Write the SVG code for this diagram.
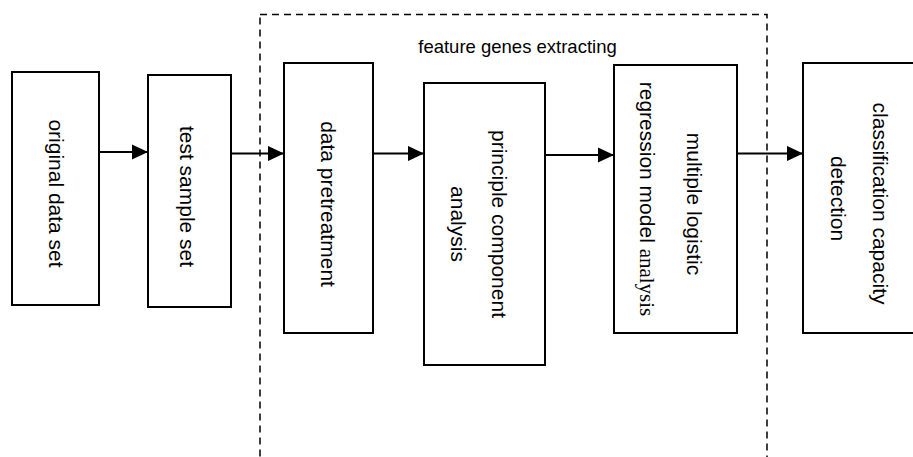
<svg xmlns="http://www.w3.org/2000/svg" width="913" height="457" viewBox="0 0 913 457">
<defs>
<style>
.box{fill:#fff;stroke:#000;stroke-width:2}
.lbl{font-family:"Liberation Sans",Arial,sans-serif;font-size:21px;fill:#000;text-anchor:middle}
.serif{font-family:"Liberation Serif","Times New Roman",serif}
.conn{stroke:#000;stroke-width:1.8;fill:none;marker-end:url(#ah)}
.group{fill:none;stroke:#000;stroke-width:1.5;stroke-dasharray:7 5}
</style>
<marker id="ah" markerWidth="9" markerHeight="8.5" refX="9" refY="4.25" orient="auto" markerUnits="strokeWidth">
<path d="M0,0 L9,4.25 L0,8.5 Z" fill="#000"/>
</marker>
</defs>
<rect width="913" height="457" fill="#fff"/>
<g id="feature-genes-extracting">
<rect class="group" x="260" y="14.5" width="507" height="470"/>
<text x="517.5" y="53" style="font-family:'Liberation Sans',Arial,sans-serif;font-size:18.5px;text-anchor:middle">feature genes extracting</text>
</g>
<g id="connectors">
<line class="conn" x1="99" y1="152" x2="148" y2="152"/>
<line class="conn" x1="231" y1="153.5" x2="284" y2="153.5"/>
<line class="conn" x1="373" y1="153.5" x2="424" y2="153.5"/>
<line class="conn" x1="545" y1="155" x2="614" y2="155"/>
<line class="conn" x1="737" y1="153.5" x2="803" y2="153.5"/>
</g>
<g id="original-data-set">
<rect class="box" x="12" y="72" width="87" height="233"/>
<text class="lbl" transform="translate(49,193.5) rotate(90)">original data set</text>
</g>
<g id="test-sample-set">
<rect class="box" x="148" y="75" width="83" height="232"/>
<text class="lbl" transform="translate(180,196.5) rotate(90)">test sample set</text>
</g>
<g id="data-pretreatment">
<rect class="box" x="284" y="63" width="89" height="270"/>
<text class="lbl" transform="translate(321,204) rotate(90)">data pretreatment</text>
</g>
<g id="principle-component-analysis">
<rect class="box" x="424" y="83" width="121" height="282"/>
<text class="lbl" transform="translate(491.5,224) rotate(90)">principle component</text>
<text class="lbl" transform="translate(451,224) rotate(90)">analysis</text>
</g>
<g id="multiple-logistic-regression">
<rect class="box" x="614" y="65" width="123" height="268"/>
<text class="lbl" transform="translate(687,204) rotate(90)">multiple logistic</text>
<text class="lbl" transform="translate(639.5,199) rotate(90)">regression model <tspan class="serif">analysis</tspan></text>
</g>
<g id="classification-capacity-detection">
<rect class="box" x="803" y="63" width="120" height="270"/>
<text class="lbl" transform="translate(872.5,203.5) rotate(90)">classification capacity</text>
<text class="lbl" transform="translate(830.5,198.5) rotate(90)">detection</text>
</g>
</svg>
